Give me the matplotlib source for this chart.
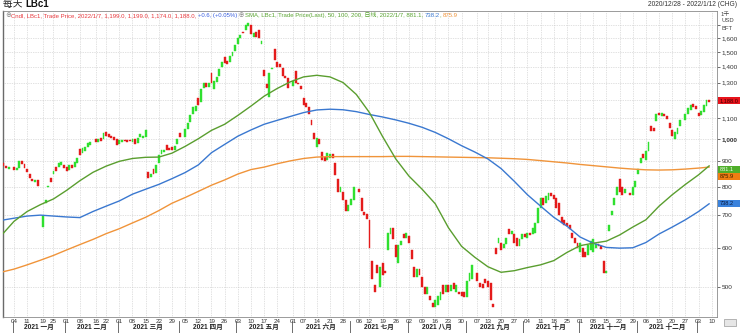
import matplotlib
matplotlib.use("Agg")
import matplotlib.pyplot as plt
from matplotlib.patches import Rectangle
from matplotlib.ticker import NullLocator
import numpy as np
import pandas as pd

plt.rcParams["font.family"] = ["Liberation Sans", "Noto Sans CJK SC", "DejaVu Sans"]

startDate = "2020-12-28"
endDate = "2022-01-12"
lastDate = "2022-01-07"
holidays = ["2021-01-01", "2021-01-18", "2021-02-15", "2021-04-02", "2021-05-31",
            "2021-07-05", "2021-09-06", "2021-11-25", "2021-12-24"]

# daily candles, LBc1 (one value per trading day, 2020/12/28 .. 2022/1/7)
opens = [
  # Dec 28 - Mar 15
  892, 895, 880, 870, 876, 866, 872, 900, 890, 868,
  848, 830, 818, 826, 662, 742, 800, 832, 850, 876,
  875, 886, 885, 876, 865, 884, 876, 894, 952, 935,
  945, 962, 970, 1000, 986, 1002, 1000, 1030, 1022, 1012,
  1006, 1000, 975, 985, 996, 993, 996, 985, 1000, 980,
  1008, 1005, 1010,
  # Mar 16 - May 14
  856, 835, 868, 852, 895, 930, 942, 970, 956, 962,
  950, 975, 1025, 1010, 1045, 1080, 1120, 1140, 1210, 1190,
  1265, 1300, 1272, 1360, 1262, 1305, 1340, 1395, 1465, 1440,
  1430, 1472, 1505, 1555, 1600, 1650, 1660, 1690, 1702, 1610,
  1645, 1665, 1555,
  # May 17 - Jul 9
  1380, 1290, 1215, 1388, 1520, 1430, 1420, 1390, 1340, 1330,
  1280, 1370, 1300, 1280, 1210, 1180, 1160, 1090, 1025, 960,
  1000, 940, 920, 905, 915, 930, 895, 830, 780, 780,
  750, 715, 735, 750, 790, 760, 710, 705,
  # Jul 12 - Sep 15
  685, 565, 505, 555, 500, 560, 540, 595, 640, 660,
  610, 560, 610, 640, 628, 635, 595, 550, 525, 545,
  525, 500, 485, 480, 465, 455, 460, 470, 505, 490,
  505, 492, 510, 490, 490, 490, 488, 477, 515, 520,
  535, 510, 508, 520, 515, 510, 463,
  # Sep 16 - Nov 15
  600, 615, 615, 600, 612, 655, 640, 640, 630, 605,
  625, 640, 630, 645, 640, 645, 675, 725, 760, 740,
  750, 775, 770, 760, 740, 693, 685, 675, 668, 645,
  630, 615, 590, 600, 590, 580, 595, 590, 600, 612,
  605, 565, 535,
  # Nov 16 - Jan 7
  650, 700, 735, 770, 830, 800, 775, 775, 770, 800,
  850, 895, 930, 905, 945, 1060, 1050, 1085, 1130, 1112,
  1125, 1110, 1075, 1040, 1000, 1022, 1060, 1090, 1125, 1145,
  1175, 1165, 1130, 1115, 1135, 1168, 1199,
]
closes = [
  885, 880, 872, 876, 866, 872, 900, 890, 872, 855,
  832, 820, 826, 802, 698, 752, 801, 818, 862, 862,
  892, 897, 874, 862, 884, 874, 896, 913, 928, 958,
  962, 980, 985, 986, 1000, 990, 1025, 1015, 1010, 1004,
  995, 972, 992, 995, 990, 986, 988, 997, 978, 1005,
  1022, 1015, 1040,
  834, 850, 850, 885, 925, 948, 950, 950, 950, 948,
  968, 1000, 1008, 1045, 1075, 1115, 1160, 1168, 1172, 1262,
  1300, 1272, 1296, 1300, 1308, 1335, 1382, 1430, 1422, 1420,
  1475, 1502, 1550, 1602, 1625, 1642, 1700, 1715, 1630, 1640,
  1605, 1600, 1575,
  1340, 1265, 1360, 1392, 1445, 1400, 1395, 1340, 1330, 1270,
  1310, 1300, 1290, 1260, 1170, 1160, 1125, 1065, 1000, 1005,
  975, 905, 900, 935, 930, 915, 845, 780, 800, 750,
  715, 735, 755, 800, 780, 715, 700, 688,
  600, 520, 490, 535, 550, 530, 535, 645, 660, 625,
  575, 610, 620, 628, 645, 615, 570, 525, 545, 530,
  500, 485, 500, 470, 455, 470, 480, 490, 485, 505,
  490, 505, 495, 505, 485, 480, 478, 515, 535, 555,
  515, 500, 498, 510, 500, 470, 455,
  585, 630, 595, 612, 630, 640, 650, 615, 605, 625,
  640, 632, 645, 638, 660, 675, 725, 760, 735, 765,
  775, 765, 755, 725, 700, 675, 670, 665, 655, 630,
  615, 600, 615, 575, 575, 610, 620, 625, 612, 605,
  598, 535, 538,
  670, 715, 760, 800, 780, 770, 790, 768, 800, 820,
  870, 915, 915, 945, 985, 1035, 1035, 1125, 1118, 1130,
  1112, 1095, 1050, 1015, 1030, 1050, 1090, 1125, 1155, 1170,
  1160, 1150, 1110, 1140, 1170, 1200, 1188,
]

# moving averages read weekly (Mondays) plus the last day
maDates = list(pd.date_range("2020-12-28", "2022-01-03", freq="W-MON")) + [pd.Timestamp(lastDate)]
sma50 = [635, 680, 712, 735, 755, 786, 822, 855, 880, 900,
         912, 917, 918, 935, 965, 1000, 1040, 1070, 1115, 1165,
         1220, 1265, 1305, 1335, 1345, 1335, 1300, 1230, 1130, 1010,
         910, 840, 790, 738, 660, 605, 575, 550, 536, 540,
         548, 555, 566, 588, 607, 614, 620, 638, 662, 685,
         730, 770, 808, 845, 881]
sma100 = [683, 690, 697, 700, 697, 694, 692, 712, 730, 748,
          772, 790, 808, 830, 854, 885, 937, 974, 1012, 1042,
          1070, 1090, 1110, 1130, 1144, 1148, 1145, 1135, 1120, 1107,
          1092, 1075, 1055, 1030, 1000, 968, 940, 910, 870, 820,
          770, 730, 693, 665, 632, 614, 602, 600, 601, 616,
          641, 662, 685, 712, 738]
sma200 = [536, 544, 555, 567, 580, 595, 610, 625, 642, 657,
          675, 693, 715, 740, 760, 782, 805, 825, 848, 866,
          876, 890, 902, 912, 918, 920, 920, 920, 920, 920,
          921, 921, 920, 919, 918, 917, 916, 915, 913, 911,
          908, 903, 898, 893, 887, 882, 877, 872, 868, 865,
          864, 865, 868, 872, 876]

monthNames = ["一月", "二月", "三月", "四月", "五月", "六月",
              "七月", "八月", "九月", "十月", "十一月", "十二月"]
yTicks = [500, 600, 700, 800, 900, 1000, 1100, 1200, 1300, 1400, 1500, 1600, 1700]
hiddenYTicks = [1200, 1700]

upColor = "#2fe02f"
downColor = "#e41b1b"
sma50Color = "#5a9e2f"
sma100Color = "#3a78d0"
sma200Color = "#f0943a"
gridColor = "#c4c4c4"

W, H = 740, 333
fig = plt.figure(figsize=(W / 100, H / 100), dpi=100)
ax = fig.add_axes([3 / W, 16 / H, 714 / W, 306 / H])

# weekday axis, holidays keep their (empty) slot
allDays = pd.bdate_range(startDate, endDate)
pos = {d: i for i, d in enumerate(allDays)}
hol = pd.to_datetime(holidays)
calDays = [d for d in allDays if d not in hol]
tradeDays = [d for d in calDays if d <= pd.Timestamp(lastDate)]

n = min(len(tradeDays), len(opens), len(closes))
x = np.array([pos[d] for d in tradeDays[:n]])
o = np.array(opens[:n], dtype=float)
c = np.array(closes[:n], dtype=float)
up = c >= o

ax.bar(x[up], (c - o)[up], bottom=o[up], width=0.72, color=upColor,
       edgecolor=upColor, linewidth=0.3, zorder=3)
ax.bar(x[~up], (c - o)[~up], bottom=o[~up], width=0.72, color=downColor,
       edgecolor=downColor, linewidth=0.3, zorder=3)

maX = [pos[d] for d in maDates]
ax.plot(maX, sma200, color=sma200Color, lw=1.0, zorder=4)
ax.plot(maX, sma100, color=sma100Color, lw=1.0, zorder=4)
ax.plot(maX, sma50, color=sma50Color, lw=1.0, zorder=4)

ax.set_yscale("log")
ax.set_ylim(435, 1816)
ax.set_xlim(0.82, 272.0)

# weekly ticks on first trading day of each week
weekFirst = {}
for d in calDays:
  wk = d - pd.Timedelta(days=d.weekday())
  weekFirst.setdefault(wk, d)
weekTicks = [d for d in weekFirst.values() if pos[d] > 2]
ax.set_xticks([pos[d] for d in weekTicks])
ax.set_xticklabels([d.strftime("%d") for d in weekTicks])
ax.tick_params(axis="x", labelsize=4.5, pad=1.2, length=0, colors="#333333")

ax.yaxis.tick_right()
ax.set_yticks(yTicks)
ax.yaxis.set_minor_locator(NullLocator())
ax.set_yticklabels(["" if v in hiddenYTicks else f"{v:,}" for v in yTicks])
ax.tick_params(axis="y", labelsize=4.6, pad=1.5, length=2, width=0.5, colors="#333333")
for lbl, v in zip(ax.get_yticklabels(), yTicks):
  if v == 1000:
    lbl.set_fontweight("bold")

ax.grid(True, ls=(0, (1, 1.5)), color=gridColor, lw=0.5, zorder=0)
for sp in ax.spines.values():
  sp.set_color("#8a8a8a")
  sp.set_linewidth(0.6)
ax.spines["left"].set_color("#6a6a6a")
ax.spines["left"].set_linewidth(1.0)

# month row under the ticks
monthFirst = {}
for d in calDays:
  monthFirst.setdefault((d.year, d.month), d)
starts = [d for d in monthFirst.values() if d.year >= 2021]
for d in starts:
  ax.plot([pos[d] - 0.5, pos[d] - 0.5], [-0.014, -0.052], transform=ax.get_xaxis_transform(),
          color="#555555", lw=0.6, clip_on=False)
for a, b in zip(starts[:-1], starts[1:]):
  ax.text((pos[a] + pos[b]) / 2 - 0.5, -0.034, f"{a.year} {monthNames[a.month - 1]}",
          transform=ax.get_xaxis_transform(), ha="center", va="center",
          fontsize=4.8, fontweight="bold", color="#222222")


def chainText(pieces, x0, y0, fontsize):
  # pieces of differently coloured text placed one after another
  prev = None
  for s, color in pieces:
    if prev is None:
      prev = fig.text(x0, y0, s, fontsize=fontsize, color=color, ha="left", va="bottom")
    else:
      prev = ax.annotate(s, xy=(1, 0), xycoords=prev, ha="left", va="bottom",
                         fontsize=fontsize, color=color, annotation_clip=False)
  return prev


legendRed = "#e8383d"
legendGreen = "#5aa532"
chainText([("⊕", "#888888"),
           ("Cndl, LBc1, Trade Price, 2022/1/7, 1,199.0, 1,199.0, 1,174.0, 1,188.0, ", legendRed),
           ("+0.6, (+0.05%)", "#3a5fe0"),
           (" ⊕", "#888888"),
           ("SMA, LBc1, Trade Price(Last), 50, 100, 200, 日线, 2022/1/7, 881.1, ", legendGreen),
           ("738.2", sma100Color), (", ", legendGreen), ("875.9", sma200Color)],
          5 / W, 1 - 18 / H, 4.3)

last = chainText([("每天 ", "#222222"), ("LBc1", "#111111")], 3 / W, 1 - 9 / H, 7)
last.set_fontweight("bold")
fig.text(737 / W, 1 - 5 / H, "2020/12/28 - 2022/1/12 (CHG)", ha="right", va="center",
         fontsize=4.8, color="#333333")

for i, s in enumerate(["1千", "USD", "BFT"]):
  fig.text(721 / W, 1 - (14 + 7 * i) / H, s, ha="left", va="center", fontsize=4.2, color="#444444")


def badge(value, text, fc, tc, shift):
  yPix = ax.transData.transform((0, value))[1] + shift
  fig.patches.append(Rectangle((718 / W, (yPix - 3.5) / H), 22 / W, 7 / H,
                               transform=fig.transFigure, fc=fc, ec="none", zorder=5))
  fig.text(720 / W, yPix / H, text, ha="left", va="center", fontsize=4.1, color=tc, zorder=6)


badge(1188.0, "1,188.0", "#e8141c", "#3a0000", 1.5)
badge(881.1, "881.1", "#4fae2a", "#eaffea", -3.2)
badge(875.9, "875.9", "#ef7d12", "#3a1a00", -8.9)
badge(738.2, "738.2", "#3a82dc", "#0a1a40", 0)

fig.patches.append(Rectangle((724 / W, 7 / H), 12 / W, 7 / H, transform=fig.transFigure,
                             fc="#e6e6e6", ec="#999999", lw=0.5))

fig.savefig("out.png", dpi=100)
